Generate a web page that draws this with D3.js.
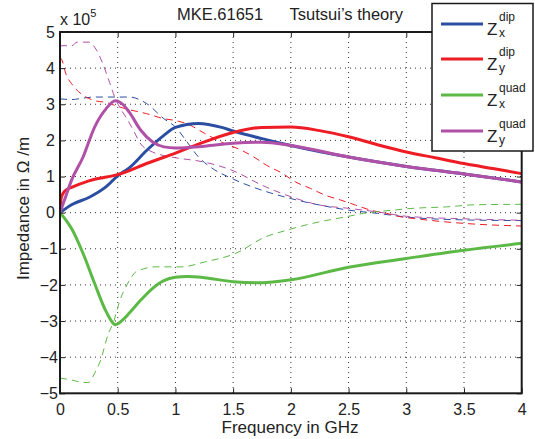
<!DOCTYPE html>
<html>
<head>
<meta charset="utf-8">
<script src="https://cdn.jsdelivr.net/npm/d3@7"></script>
<style>
  body { margin: 0; background: #fff; }
  text { font-family: "Liberation Sans", Arial, sans-serif; fill: #222; }
</style>
</head>
<body>
<div id="chart"></div>
<script>
// values are in units of 1e5 Ohm/m, frequency in GHz

const xTicks = [0, 0.5, 1, 1.5, 2, 2.5, 3, 3.5, 4];
const xTickLabels = ["0", "0.5", "1", "1.5", "2", "2.5", "3", "3.5", "4"];
const yTicks = [-5, -4, -3, -2, -1, 0, 1, 2, 3, 4, 5];
const yTickLabels = ["\u22125", "\u22124", "\u22123", "\u22122", "\u22121", "0", "1", "2", "3", "4", "5"];

// solid curves
const zxDipF = [0, 0.1, 0.25, 0.4, 0.5, 0.6, 0.75, 0.9, 1.0, 1.2, 1.4, 1.5, 1.75, 2.0, 2.5, 3.0, 3.5, 4.0];
const zxDipV = [0, 0.22, 0.42, 0.72, 1.02, 1.24, 1.72, 2.14, 2.36, 2.47, 2.36, 2.26, 2.05, 1.86, 1.54, 1.28, 1.07, 0.85];

const zyDipF = [0, 0.01, 0.03, 0.06, 0.1, 0.25, 0.53, 0.75, 1.0, 1.21, 1.5, 1.75, 2.0, 2.25, 2.5, 2.75, 3.0, 3.25, 3.5, 3.75, 4.0];
const zyDipV = [0, 0.4, 0.55, 0.64, 0.7, 0.88, 1.08, 1.36, 1.65, 1.91, 2.22, 2.36, 2.37, 2.27, 2.1, 1.88, 1.68, 1.52, 1.36, 1.22, 1.08];

const zxQuadF = [0, 0.05, 0.1, 0.2, 0.3, 0.4, 0.48, 0.55, 0.6, 0.7, 0.8, 0.9, 1.0, 1.1, 1.25, 1.5, 1.75, 2.0, 2.5, 3.0, 3.5, 4.0];
const zxQuadV = [0, -0.2, -0.44, -1.13, -1.96, -2.74, -3.1, -2.95, -2.78, -2.42, -2.1, -1.88, -1.79, -1.77, -1.8, -1.91, -1.94, -1.86, -1.51, -1.27, -1.04, -0.85];

const zyQuadF = [0, 0.05, 0.1, 0.2, 0.3, 0.4, 0.48, 0.55, 0.6, 0.7, 0.8, 0.9, 1.0, 1.25, 1.5, 1.75, 2.0, 2.5, 3.0, 3.5, 4.0];
const zyQuadV = [0, 0.45, 0.9, 1.54, 2.37, 2.88, 3.1, 2.98, 2.78, 2.28, 1.96, 1.82, 1.79, 1.84, 1.92, 1.95, 1.86, 1.54, 1.28, 1.07, 0.85];

// dashed curves
const zxDipDF = [0, 0.1, 0.2, 0.3, 0.5, 0.6, 0.75, 0.9, 1.0, 1.1, 1.2, 1.3, 1.5, 1.75, 2.0, 2.25, 2.5, 2.75, 3.0, 3.5, 4.0];
const zxDipDV = [3.15, 3.13, 3.17, 3.2, 3.2, 3.2, 3.02, 2.6, 2.37, 1.96, 1.54, 1.27, 0.93, 0.62, 0.39, 0.21, 0.07, -0.02, -0.12, -0.2, -0.22];

const zyDipDF = [0, 0.02, 0.05, 0.1, 0.2, 0.3, 0.4, 0.5, 0.6, 0.75, 0.9, 1.0, 1.1, 1.25, 1.4, 1.57, 1.68, 1.79, 1.92, 2.04, 2.17, 2.3, 2.43, 2.56, 2.69, 2.83, 2.96, 3.06, 3.32, 3.61, 4.0];
const zyDipDV = [4.3, 4.2, 3.85, 3.57, 3.25, 3.1, 3.05, 2.94, 2.85, 2.74, 2.6, 2.55, 2.46, 2.2, 1.95, 1.73, 1.54, 1.31, 1.1, 0.85, 0.67, 0.48, 0.35, 0.21, 0.07, -0.02, -0.12, -0.16, -0.25, -0.32, -0.37];

const zxQuadDF = [0, 0.1, 0.2, 0.25, 0.3, 0.35, 0.42, 0.46, 0.52, 0.58, 0.66, 0.72, 0.82, 1.05, 1.26, 1.52, 1.78, 1.95, 2.21, 2.47, 2.63, 2.89, 3.06, 3.35, 3.61, 4.0];
const zxQuadDV = [-4.58, -4.63, -4.7, -4.7, -4.44, -4.1, -3.34, -3.06, -2.42, -2.0, -1.63, -1.56, -1.5, -1.5, -1.36, -1.13, -0.67, -0.5, -0.28, -0.12, -0.02, 0.07, 0.12, 0.16, 0.22, 0.23];

const zyQuadDF = [0, 0.1, 0.15, 0.25, 0.3, 0.37, 0.43, 0.48, 0.52, 0.58, 0.64, 0.7, 0.8, 0.9, 1.0, 1.25, 1.5, 1.75, 2.0, 2.25, 2.5, 2.75, 3.0, 3.5, 4.0];
const zyQuadDV = [4.62, 4.62, 4.72, 4.72, 4.58, 4.13, 3.6, 3.15, 2.9, 2.6, 2.25, 1.9, 1.68, 1.58, 1.52, 1.4, 1.16, 0.76, 0.44, 0.21, 0.12, 0.02, -0.1, -0.17, -0.21];

const BLUE = "#2b4ea2";
const RED = "#ee1c25";
const GREEN = "#5cb946";
const PURPLE = "#b050a6";

const W = 535, H = 439;
const plotLeft = 60, plotRight = 521.7, plotTop = 32, plotBottom = 393.3;

const svg = d3.select("#chart").append("svg")
    .attr("width", W)
    .attr("height", H);

const x = d3.scaleLinear().domain([0, 4]).range([plotLeft, plotRight]);
const y = d3.scaleLinear().domain([-5, 5]).range([plotBottom, plotTop]);

svg.append("clipPath").attr("id", "plot-clip")
    .append("rect")
    .attr("x", plotLeft).attr("y", plotTop)
    .attr("width", plotRight - plotLeft).attr("height", plotBottom - plotTop);

// dotted grid
const grid = svg.append("g").attr("class", "grid");
grid.selectAll(".gx")
    .data(xTicks.slice(1, -1))
    .enter().append("line")
    .attr("x1", d => x(d)).attr("x2", d => x(d))
    .attr("y1", plotTop).attr("y2", plotBottom)
    .attr("stroke", "#333").attr("stroke-width", 1)
    .attr("stroke-dasharray", "1,4");
grid.selectAll(".gy")
    .data(yTicks.slice(1, -1))
    .enter().append("line")
    .attr("x1", plotLeft).attr("x2", plotRight)
    .attr("y1", d => y(d)).attr("y2", d => y(d))
    .attr("stroke", "#333").attr("stroke-width", 1)
    .attr("stroke-dasharray", "1,4");

const line = d3.line()
    .x(d => x(d[0]))
    .y(d => y(d[1]))
    .curve(d3.curveMonotoneX);

const zipPts = (f, v) => f.map((d, i) => [d, v[i]]);

const dashed = [
    {f: zxDipDF, v: zxDipDV, color: BLUE},
    {f: zyDipDF, v: zyDipDV, color: RED},
    {f: zxQuadDF, v: zxQuadDV, color: GREEN},
    {f: zyQuadDF, v: zyQuadDV, color: PURPLE}
];
const solid = [
    {f: zxDipF, v: zxDipV, color: BLUE},
    {f: zyDipF, v: zyDipV, color: RED},
    {f: zxQuadF, v: zxQuadV, color: GREEN},
    {f: zyQuadF, v: zyQuadV, color: PURPLE}
];

const curves = svg.append("g").attr("clip-path", "url(#plot-clip)");

curves.selectAll(".dashed")
    .data(dashed)
    .enter().append("path")
    .attr("class", "dashed")
    .attr("d", d => line(zipPts(d.f, d.v)))
    .attr("fill", "none")
    .attr("stroke", d => d.color)
    .attr("stroke-width", 1)
    .attr("stroke-dasharray", "7,5");

curves.selectAll(".solid")
    .data(solid)
    .enter().append("path")
    .attr("class", "solid")
    .attr("d", d => line(zipPts(d.f, d.v)))
    .attr("fill", "none")
    .attr("stroke", d => d.color)
    .attr("stroke-width", 3)
    .attr("stroke-linejoin", "round");

// axes, ticks inward on all four sides
const xAxisB = d3.axisBottom(x).tickValues(xTicks).tickSize(-5).tickPadding(10)
    .tickFormat((d, i) => xTickLabels[i]);
const xAxisT = d3.axisTop(x).tickValues(xTicks).tickSize(-5).tickFormat("");
const yAxisL = d3.axisLeft(y).tickValues(yTicks).tickSize(-5).tickPadding(5)
    .tickFormat((d, i) => yTickLabels[i]);
const yAxisR = d3.axisRight(y).tickValues(yTicks).tickSize(-5).tickFormat("");

const styleAxis = g => {
    g.select(".domain").remove();
    g.selectAll(".tick line").attr("stroke", "#222").attr("stroke-width", 1);
    g.selectAll(".tick text").attr("font-size", 16).attr("fill", "#222")
        .attr("font-family", "Liberation Sans, Arial, sans-serif");
};

svg.append("g").attr("transform", `translate(0,${plotBottom})`).call(xAxisB).call(styleAxis);
svg.append("g").attr("transform", `translate(0,${plotTop})`).call(xAxisT).call(styleAxis);
svg.append("g").attr("transform", `translate(${plotLeft},0)`).call(yAxisL).call(styleAxis)
    .selectAll(".tick text").attr("dx", d => d < 0 ? 3 : 0);
svg.append("g").attr("transform", `translate(${plotRight},0)`).call(yAxisR).call(styleAxis);

svg.append("rect")
    .attr("x", plotLeft).attr("y", plotTop)
    .attr("width", plotRight - plotLeft).attr("height", plotBottom - plotTop)
    .attr("fill", "none")
    .attr("stroke", "#1a1a1a")
    .attr("stroke-width", 2);

// exponent label
const expo = svg.append("text").attr("x", plotLeft).attr("y", 25).attr("font-size", 16);
expo.append("tspan").text("x 10");
expo.append("tspan").attr("dy", -8).attr("font-size", 11).text("5");

// title
svg.append("text")
    .attr("x", 177).attr("y", 20)
    .attr("font-size", 16.5)
    .text("MKE.61651");
svg.append("text")
    .attr("x", 403).attr("y", 20)
    .attr("text-anchor", "end")
    .attr("font-size", 16.5)
    .text("Tsutsui\u2019s theory");

// axis labels
svg.append("text")
    .attr("x", 290).attr("y", 433)
    .attr("text-anchor", "middle")
    .attr("font-size", 17)
    .text("Frequency in GHz");

svg.append("text")
    .attr("transform", "translate(29,208.5) rotate(-90)")
    .attr("text-anchor", "middle")
    .attr("font-size", 17)
    .text("Impedance in \u03A9 /m");

// legend
const legendNames = [
    {sup: "dip", sub: "x", color: BLUE},
    {sup: "dip", sub: "y", color: RED},
    {sup: "quad", sub: "x", color: GREEN},
    {sup: "quad", sub: "y", color: PURPLE}
];
const legendY = [24, 59, 95, 131];

const legend = svg.append("g").attr("class", "legend");
legend.append("rect")
    .attr("x", 432).attr("y", 3.5)
    .attr("width", 101).attr("height", 147.5)
    .attr("fill", "#fff")
    .attr("stroke", "#1a1a1a")
    .attr("stroke-width", 1.5);

const items = legend.selectAll(".item")
    .data(legendNames)
    .enter().append("g")
    .attr("transform", (d, i) => `translate(0,${legendY[i]})`);

items.append("line")
    .attr("x1", 441).attr("x2", 483)
    .attr("y1", 0).attr("y2", 0)
    .attr("stroke", d => d.color)
    .attr("stroke-width", 3);

items.append("text")
    .attr("x", 487).attr("y", 11)
    .attr("font-size", 17)
    .text("Z");
items.append("text")
    .attr("x", 499).attr("y", -3)
    .attr("font-size", 12)
    .text(d => d.sup);
items.append("text")
    .attr("x", 499).attr("y", 13)
    .attr("font-size", 12)
    .text(d => d.sub);
</script>
</body>
</html>
